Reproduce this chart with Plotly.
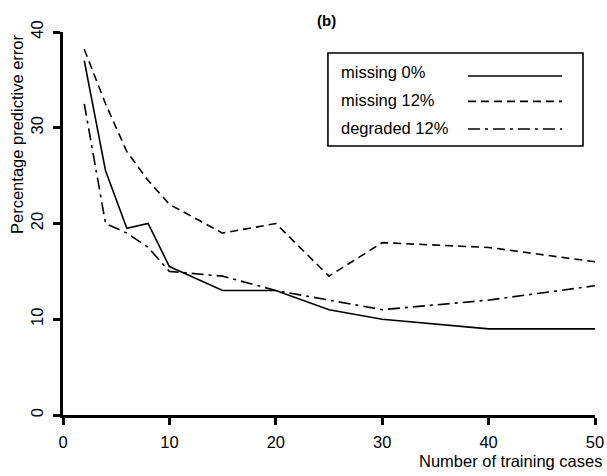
import plotly.graph_objects as go

x_cases = [2, 4, 6, 8, 10, 15, 20, 25, 30, 40, 50]
missing0 = [37.0, 25.5, 19.5, 20.0, 15.5, 13.0, 13.0, 11.0, 10.0, 9.0, 9.0]
missing12 = [38.2, 32.5, 27.5, 24.5, 22.0, 19.0, 20.0, 14.5, 18.0, 17.5, 16.0]
degraded12 = [32.5, 20.0, 19.0, 17.5, 15.0, 14.5, 13.0, 12.0, 11.0, 12.0, 13.5]

series_names = ["missing 0%", "missing 12%", "degraded 12%"]
series_vals = [missing0, missing12, degraded12]
dashes = ["solid", "8px,5px", "12px,5px,3px,5px"]

FONT = "Liberation Sans, Arial, Helvetica, sans-serif"
FS = 16.5

fig = go.Figure()
for name, vals, d in zip(series_names, series_vals, dashes):
    fig.add_trace(go.Scatter(x=x_cases, y=vals, mode="lines", name=name,
                             line=dict(color="black", width=1.6, dash=d),
                             showlegend=False))

# custom legend (text left, line sample right)
text_y = [35.82, 32.9, 29.97]
line_y = [35.40, 32.75, 29.87]
shapes = [dict(type="rect", xref="x", yref="y", x0=24.9, x1=48.87, y0=28.09, y1=37.81,
               line=dict(color="black", width=1.6), fillcolor="white", layer="above")]
annotations = []
for name, ty, ly, d in zip(series_names, text_y, line_y, dashes):
    annotations.append(dict(x=25.94, y=ty, xref="x", yref="y", text=name, showarrow=False,
                            xanchor="left", yanchor="middle",
                            font=dict(family=FONT, size=FS, color="black")))
    shapes.append(dict(type="line", xref="x", yref="y", x0=38.06, x1=46.9, y0=ly, y1=ly,
                       line=dict(color="black", width=1.6, dash=d), layer="above"))

annotations.append(dict(x=0.496, y=1.031, xref="paper", yref="paper", text="<b>(b)</b>",
                        showarrow=False, xanchor="center", yanchor="middle",
                        font=dict(family=FONT, size=15, color="black")))
annotations.append(dict(x=1.017, y=-0.120, xref="paper", yref="paper", text="Number of training cases",
                        showarrow=False, xanchor="right", yanchor="middle",
                        font=dict(family=FONT, size=FS, color="black")))
annotations.append(dict(x=-0.0865, y=1.0, xref="paper", yref="paper", text="Percentage predictive error",
                        showarrow=False, xanchor="center", yanchor="top", textangle=-90,
                        font=dict(family=FONT, size=FS, color="black")))

fig.update_layout(
    width=607, height=476,
    margin=dict(l=63, r=12, t=32, b=61, autoexpand=False),
    paper_bgcolor="white", plot_bgcolor="white",
    shapes=shapes, annotations=annotations,
    xaxis=dict(range=[0, 50], tickvals=[0, 10, 20, 30, 40, 50], showgrid=False, zeroline=False,
               showline=True, linecolor="black", linewidth=2.5, ticks="outside", ticklen=7,
               tickwidth=2.5, tickcolor="black", ticklabelstandoff=3, automargin=False,
               tickfont=dict(family=FONT, size=FS, color="black")),
    yaxis=dict(range=[0, 40], tickvals=[0, 10, 20, 30, 40], showgrid=False, zeroline=False,
               showline=True, linecolor="black", linewidth=2.5, ticks="outside", ticklen=7,
               tickwidth=2.5, tickcolor="black", tickangle=-90, ticklabelstandoff=4,
               automargin=False,
               tickfont=dict(family=FONT, size=FS, color="black")),
)

fig.write_html("out.html", config={"displayModeBar": False},
               post_script="document.body.style.margin='0';document.body.style.overflow='hidden';")
